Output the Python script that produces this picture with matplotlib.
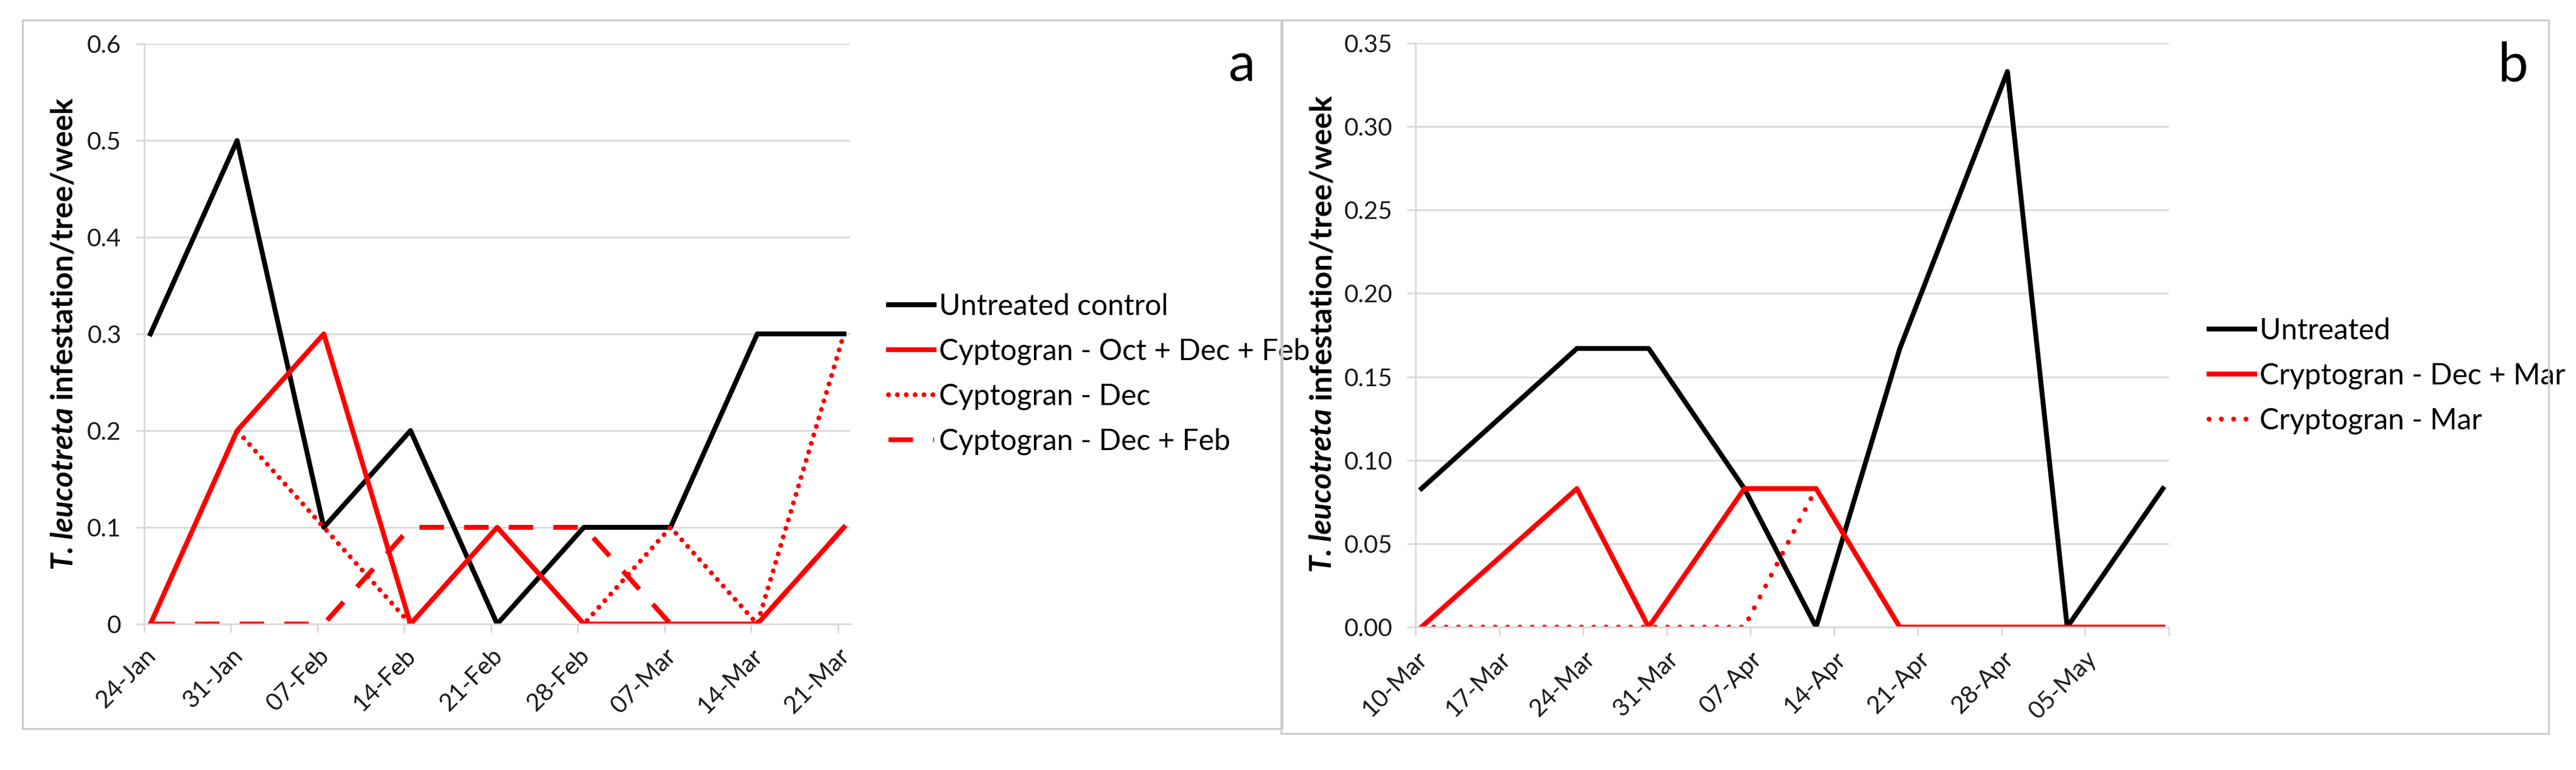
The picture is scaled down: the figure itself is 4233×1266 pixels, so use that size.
import matplotlib
matplotlib.use("Agg")
import matplotlib.pyplot as plt
import matplotlib.dates as mdates
from matplotlib.patches import Rectangle
import pandas as pd

plt.rcParams['font.family'] = ['Lato', 'DejaVu Sans']

# panel a: weekly sampling dates, Jan - Mar
dates_a = ['24-Jan', '31-Jan', '07-Feb', '14-Feb', '21-Feb', '28-Feb', '07-Mar', '14-Mar', '21-Mar']
untreated_control = [0.3, 0.5, 0.1, 0.2, 0.0, 0.1, 0.1, 0.3, 0.3]
oct_dec_feb = [0.0, 0.2, 0.3, 0.0, 0.1, 0.0, 0.0, 0.0, 0.1]
dec_only = [0.0, 0.2, 0.1, 0.0, 0.1, 0.0, 0.1, 0.0, 0.3]
dec_feb = [0.0, 0.0, 0.0, 0.1, 0.1, 0.1, 0.0, 0.0, 0.1]
labels_a = ['Untreated control', 'Cyptogran - Oct + Dec + Feb',
            'Cyptogran - Dec', 'Cyptogran - Dec + Feb']
yticks_a = [0, 0.1, 0.2, 0.3, 0.4, 0.5, 0.6]
yticklabels_a = ['0', '0.1', '0.2', '0.3', '0.4', '0.5', '0.6']

# panel b: sampling dates, Mar - May
dates_b = ['10-Mar', '23-Mar', '29-Mar', '06-Apr', '12-Apr', '19-Apr', '28-Apr', '03-May', '11-May']
untreated = [0.083, 0.167, 0.167, 0.083, 0.0, 0.167, 0.333, 0.0, 0.083]
dec_mar = [0.0, 0.083, 0.0, 0.083, 0.083, 0.0, 0.0, 0.0, 0.0]
mar_only = [0.0, 0.0, 0.0, 0.0, 0.083, 0.0, 0.0, 0.0, 0.0]
labels_b = ['Untreated', 'Cryptogran - Dec + Mar', 'Cryptogran - Mar']
xticks_b = ['10-Mar', '17-Mar', '24-Mar', '31-Mar', '07-Apr', '14-Apr',
            '21-Apr', '28-Apr', '05-May', '12-May']
xticklabels_b = ['10-Mar', '17-Mar', '24-Mar', '31-Mar', '07-Apr', '14-Apr',
                 '21-Apr', '28-Apr', '05-May', '']
yticks_b = [0, 0.05, 0.10, 0.15, 0.20, 0.25, 0.30, 0.35]

ylabel_italic = 'T. leucotreta'
ylabel_rest = ' infestation/tree/week'


def to_num(days):
    d = pd.to_datetime([s + '-2017' for s in days], format='%d-%b-%Y')
    return mdates.date2num(d.to_pydatetime())


W, H = 4233, 1266
fig = plt.figure(figsize=(W / 100, H / 100), dpi=100)

GRID = '#d9d9d9'
LW = 5.8
TICK_FS = 29
LEG_FS = 34.5


def style_axes(ax):
    for s in ['top', 'right']:
        ax.spines[s].set_visible(False)
    for s in ['left', 'bottom']:
        ax.spines[s].set_color(GRID)
        ax.spines[s].set_linewidth(2)
    ax.yaxis.grid(True, color=GRID, linewidth=2)
    ax.set_axisbelow(True)
    ax.tick_params(axis='y', length=10, width=2, color=GRID, pad=17,
                   labelsize=TICK_FS, labelcolor='#1a1a1a')
    ax.tick_params(axis='x', length=10, width=2, color=GRID, pad=14,
                   labelsize=TICK_FS, labelcolor='#1a1a1a')
    for lab in ax.get_xticklabels():
        lab.set_rotation(45)
        lab.set_ha('right')
        lab.set_va('top')
        lab.set_rotation_mode('anchor')


def panel_box(x0, y0, x1, y1):
    fig.add_artist(Rectangle((x0 / W, 1 - y1 / H), (x1 - x0) / W, (y1 - y0) / H,
                             transform=fig.transFigure, fill=False,
                             edgecolor='#cccccc', linewidth=2.2))


def ylabel(x, ymid, length):
    fs = 31
    t1 = fig.text(x / W, 0.5, ylabel_italic, rotation=90, ha='center',
                  va='bottom', fontsize=fs, fontweight='bold', fontstyle='italic')
    t2 = plt.Annotation(ylabel_rest, xy=(0.5, 1.0), xycoords=t1,
                        ha='center', va='bottom', rotation=90,
                        fontsize=fs, fontweight='bold')
    fig.add_artist(t2)
    # scale the label so it spans the same height as the original, then centre it
    r = fig.canvas.get_renderer()
    fig.canvas.draw()
    L = t2.get_window_extent(r).y1 - t1.get_window_extent(r).y0
    fs = fs * length / L
    t1.set_fontsize(fs)
    t2.set_fontsize(fs)
    fig.canvas.draw()
    y0 = t1.get_window_extent(r).y0
    y1 = t2.get_window_extent(r).y1
    shift = (H - ymid) - (y0 + y1) / 2
    t1.set_y(0.5 + shift / H)


panel_box(37, 33, 2107, 1198)
panel_box(2105, 33, 4188, 1206)

# ---- panel a ----
ax = fig.add_axes([237 / W, 1 - 1026 / H, (1397 - 237) / W, (1026 - 72) / H])
xa = to_num(dates_a)
ax.plot(xa + 0.5, untreated_control, color='black', lw=LW, label=labels_a[0])
ax.plot(xa + 0.5, oct_dec_feb, color='red', lw=LW, label=labels_a[1])
ax.plot(xa + 0.5, dec_only, color='red', lw=LW, linestyle=(0, (0.01, 1.8)),
        dash_capstyle='round', label=labels_a[2])
ax.plot(xa + 0.5, dec_feb, color='red', lw=LW, linestyle=(0, (5, 4.1)),
        label=labels_a[3])
ax.set_xlim(xa[0], xa[-1] + 1)
ax.set_ylim(0, 0.6)
ax.set_xticks(xa)
ax.set_xticklabels(dates_a)
ax.set_yticks(yticks_a)
ax.set_yticklabels(yticklabels_a)
style_axes(ax)
ax.legend(loc='center left', bbox_to_anchor=(1460 / W, 1 - 615 / H),
          bbox_transform=fig.transFigure, frameon=False, fontsize=LEG_FS,
          borderpad=0, borderaxespad=0, handlelength=1.57, handletextpad=0.17,
          labelspacing=0.62)
fig.text(2040 / W, 1 - 133 / H, 'a', ha='center', va='baseline', fontsize=64)
ylabel(105, 549, 776)

# ---- panel b ----
ax = fig.add_axes([2326 / W, 1 - 1031 / H, (3564 - 2326) / W, (1031 - 71) / H])
xb = to_num(dates_b)
tb = to_num(xticks_b)
ax.plot(xb + 0.5, untreated, color='black', lw=LW, label=labels_b[0])
ax.plot(xb + 0.5, dec_mar, color='red', lw=LW, label=labels_b[1])
ax.plot(xb + 0.5, mar_only, color='red', lw=LW, linestyle=(0, (0.01, 2.5)),
        dash_capstyle='round', label=labels_b[2])
ax.set_xlim(tb[0], tb[-1])
ax.set_ylim(0, 0.35)
ax.set_xticks(tb)
ax.set_xticklabels(xticklabels_b)
ax.set_yticks(yticks_b)
ax.set_yticklabels(['%.2f' % v for v in yticks_b])
style_axes(ax)
ax.legend(loc='center left', bbox_to_anchor=(3630 / W, 1 - 618 / H),
          bbox_transform=fig.transFigure, frameon=False, fontsize=LEG_FS,
          borderpad=0, borderaxespad=0, handlelength=1.57, handletextpad=0.17,
          labelspacing=0.62)
fig.text(4130 / W, 1 - 133 / H, 'b', ha='center', va='baseline', fontsize=64)
ylabel(2174, 549, 783)

fig.savefig('out.png', dpi=100)
